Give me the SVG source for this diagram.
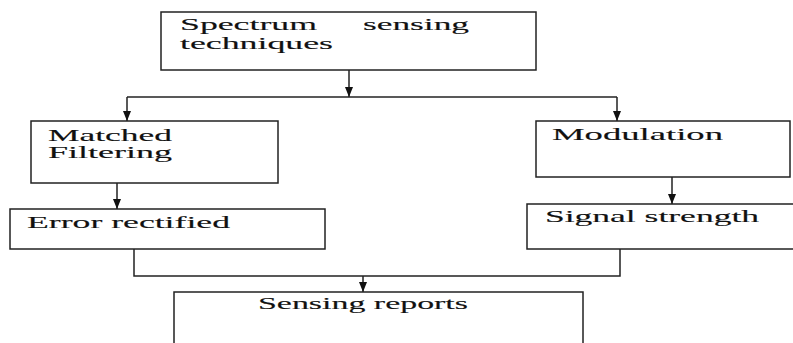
<svg xmlns="http://www.w3.org/2000/svg" width="793" height="343" viewBox="0 0 793 343">
<style>
.box{fill:#fff;stroke:#222;stroke-width:1.5}
.ln{fill:none;stroke:#222;stroke-width:1.5}
.t{font-family:"Liberation Serif","Times New Roman",serif;font-size:16px;fill:#111;stroke:#111;stroke-width:0.12}
</style>
<defs>
<marker id="ah" viewBox="0 0 10 8" refX="10" refY="4" markerWidth="10" markerHeight="8" markerUnits="userSpaceOnUse" orient="auto">
<path d="M0,0 L10,4 L0,8 Z" fill="#111"/>
</marker>
</defs>
<rect width="793" height="343" fill="#fff"/>
<g id="connectors">
<line class="ln" x1="349" y1="70" x2="349" y2="97" marker-end="url(#ah)"/>
<polyline class="ln" points="127,97 617,97"/>
<line class="ln" x1="127" y1="97" x2="127" y2="121" marker-end="url(#ah)"/>
<line class="ln" x1="617" y1="97" x2="617" y2="121" marker-end="url(#ah)"/>
<line class="ln" x1="117" y1="183" x2="117" y2="209" marker-end="url(#ah)"/>
<line class="ln" x1="672" y1="177" x2="672" y2="204" marker-end="url(#ah)"/>
<polyline class="ln" points="134,249 134,276 620,276 620,249"/>
<line class="ln" x1="363" y1="276" x2="363" y2="292" marker-end="url(#ah)"/>
</g>
<g id="spectrum">
<rect class="box" x="161" y="12" width="375" height="58"/>
<text class="t" x="180" y="29.5" textLength="137" lengthAdjust="spacingAndGlyphs">Spectrum</text>
<text class="t" x="363" y="29.5" textLength="106" lengthAdjust="spacingAndGlyphs">sensing</text>
<text class="t" x="180" y="48.5" textLength="153" lengthAdjust="spacingAndGlyphs">techniques</text>
</g>
<g id="matched">
<rect class="box" x="31" y="121" width="247" height="62"/>
<text class="t" x="48" y="141" textLength="124" lengthAdjust="spacingAndGlyphs">Matched</text>
<text class="t" x="48" y="158" textLength="124" lengthAdjust="spacingAndGlyphs">Filtering</text>
</g>
<g id="modulation">
<rect class="box" x="536" y="121" width="254" height="56"/>
<text class="t" x="552" y="140" textLength="171" lengthAdjust="spacingAndGlyphs">Modulation</text>
</g>
<g id="error">
<rect class="box" x="10" y="209" width="315" height="40"/>
<text class="t" x="27" y="227.5" textLength="203" lengthAdjust="spacingAndGlyphs">Error rectified</text>
</g>
<g id="signal">
<rect class="box" x="527" y="204" width="270" height="45"/>
<text class="t" x="545" y="222" textLength="214" lengthAdjust="spacingAndGlyphs">Signal strength</text>
</g>
<g id="sensing">
<rect class="box" x="174" y="292" width="409" height="60"/>
<text class="t" x="258" y="309" textLength="210" lengthAdjust="spacingAndGlyphs">Sensing reports</text>
</g>
</svg>
